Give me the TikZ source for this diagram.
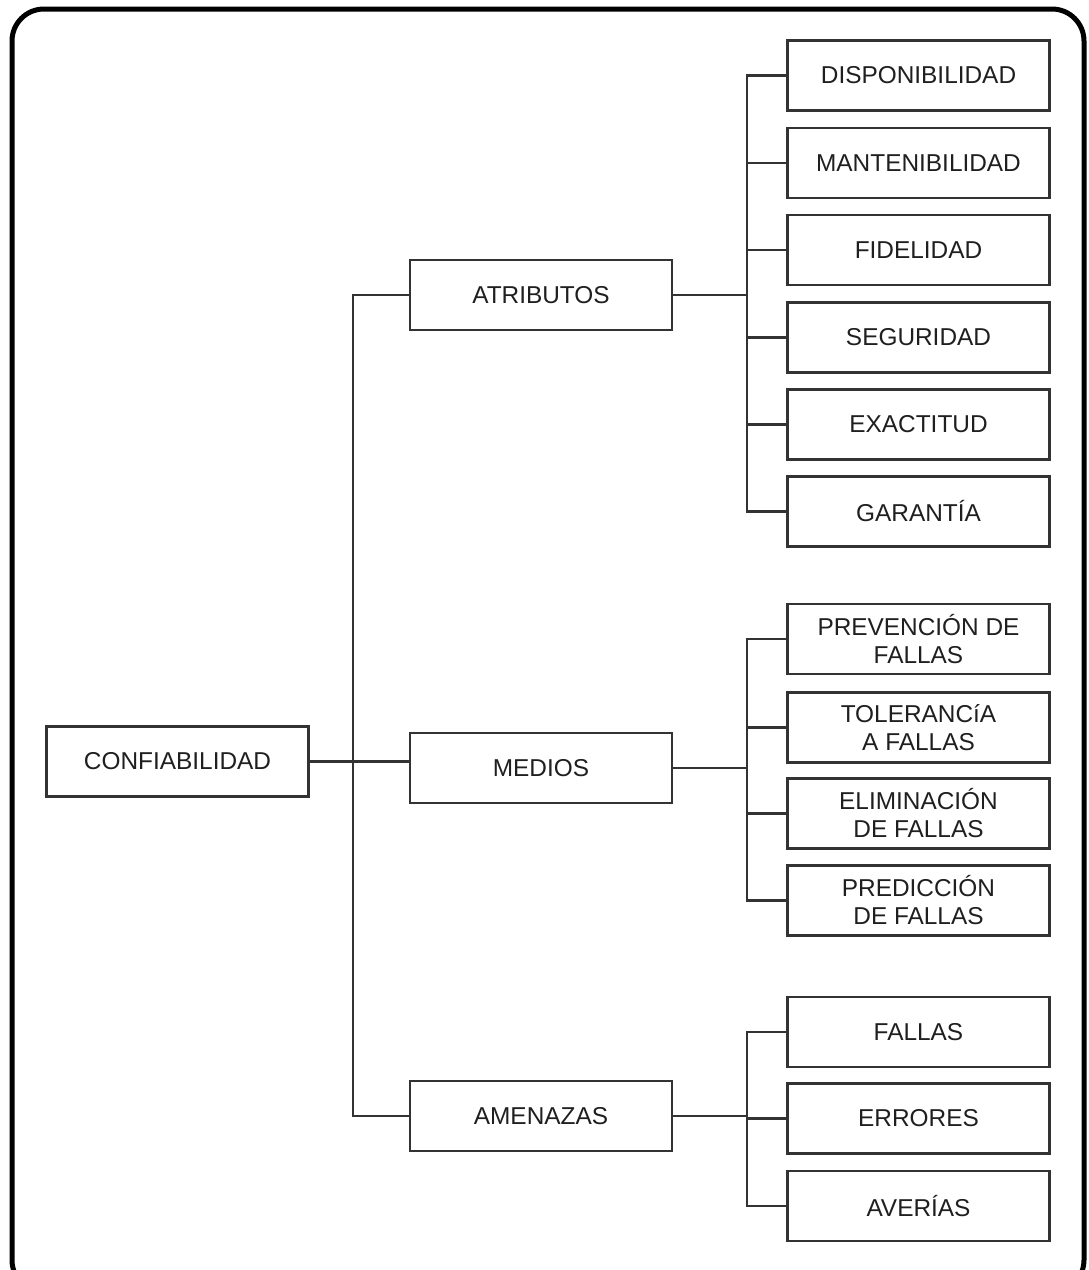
\documentclass[tikz,border=0pt]{standalone}
\usepackage{fontspec}
\setmainfont{Liberation Sans}
\begin{document}
\begin{tikzpicture}[x=1pt,y=-1pt,
  box/.style={draw=black!80, line width=2.2pt, minimum width=262pt,
    minimum height=70pt, inner sep=0pt, align=center,
    font=\fontsize{24.4}{28}\selectfont, text=black!88},
  link/.style={draw=black!80, line width=2.2pt}]
\useasboundingbox (0,0) rectangle (1088,1270);
\clip (0,0) rectangle (1088,1270);
% outer rounded frame (runs past the lower edge)
\draw[line width=5pt, rounded corners=32pt] (12,9) rectangle (1084,1292);

% root and first level
\node[box] (conf) at (177.5,761.5) {CONFIABILIDAD};
\node[box] (atr)  at (541,295)  {ATRIBUTOS};
\node[box] (med)  at (541,768)  {MEDIOS};
\node[box] (ame)  at (541,1116) {AMENAZAS};

% attributes
\node[box] (disp) at (918.5,75.5)  {DISPONIBILIDAD};
\node[box] (mant) at (918.5,163)   {MANTENIBILIDAD};
\node[box] (fide) at (918.5,250)   {FIDELIDAD};
\node[box] (segu) at (918.5,337.5) {SEGURIDAD};
\node[box] (exac) at (918.5,424.5) {EXACTITUD};
\node[box] (gara) at (918.5,511.5) {GARANTÍA};

% means
\node[box] (prev) at (918.5,639)   {PREVENCIÓN DE\\FALLAS};
\node[box] (tole) at (918.5,727.5) {TOLERANCíA\\A FALLAS};
\node[box] (elim) at (918.5,813.5) {ELIMINACIÓN\\DE FALLAS};
\node[box] (pred) at (918.5,900.5) {PREDICCIÓN\\DE FALLAS};

% threats
\node[box] (fall) at (918.5,1032)   {FALLAS};
\node[box] (erro) at (918.5,1118.5) {ERRORES};
\node[box] (aver) at (918.5,1206)   {AVERÍAS};

% trunk and branch lines
\coordinate (trunk) at (353,0);
\coordinate (bra) at (747,0);

\draw[link] (atr.west) -- (atr.west -| trunk) -- (ame.west -| trunk) -- (ame.west);
\draw[link] (conf.east) -- (conf.east -| med.west);

% attribute branch
\draw[link] (atr.east) -- (atr.east -| bra);
\draw[link] (disp.west) -- (disp.west -| bra) -- (gara.west -| bra) -- (gara.west);
\foreach \n in {mant,fide,segu,exac}
  \draw[link] (\n.west) -- (\n.west -| bra);

% means branch
\draw[link] (med.east) -- (med.east -| bra);
\draw[link] (prev.west) -- (prev.west -| bra) -- (pred.west -| bra) -- (pred.west);
\foreach \n in {tole,elim}
  \draw[link] (\n.west) -- (\n.west -| bra);

% threats branch
\draw[link] (ame.east) -- (ame.east -| bra);
\draw[link] (fall.west) -- (fall.west -| bra) -- (aver.west -| bra) -- (aver.west);
\draw[link] (erro.west) -- (erro.west -| bra);
\end{tikzpicture}
\end{document}
